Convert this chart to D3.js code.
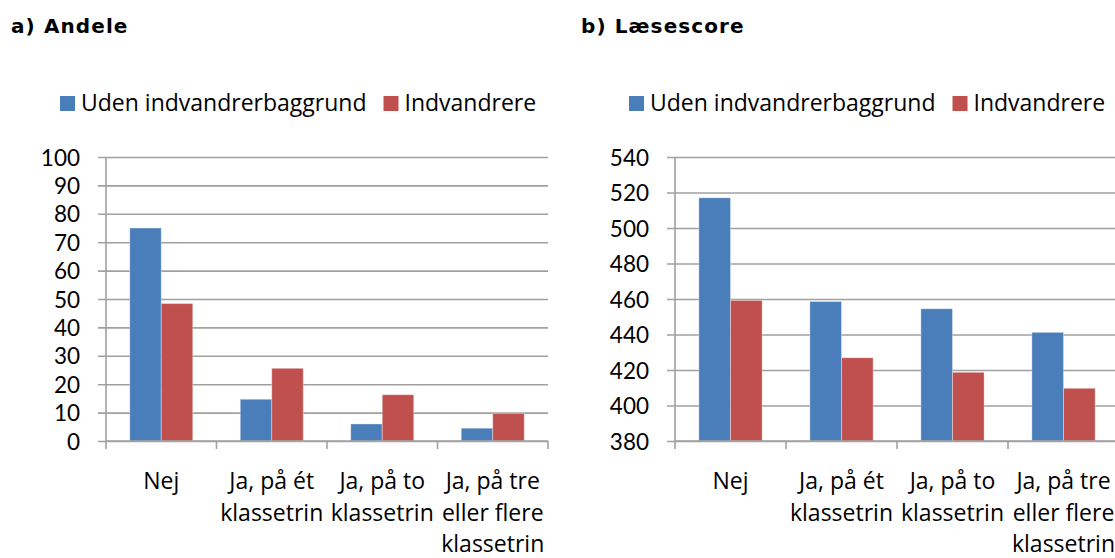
<!DOCTYPE html>
<html>
<head>
<meta charset="utf-8">
<script src="https://cdn.jsdelivr.net/npm/d3@7"></script>
<style>
  html, body { margin: 0; padding: 0; background: #fff; }
  svg { display: block; }
  .title { font-family: "DejaVu Sans", Verdana, sans-serif; font-weight: bold; font-size: 20px; letter-spacing: 1.1px; fill: #000; }
  .lbl { font-family: "Open Sans", "Noto Sans", sans-serif; font-size: 23px; fill: #000; }
  .num { font-family: Lato, "Open Sans", sans-serif; font-size: 22.5px; fill: #000; }
</style>
</head>
<body>
<svg id="chart" width="1115" height="558"></svg>
<script>
// Categories (x axis) and series names
const categories = ["Nej", "Ja, på ét klassetrin", "Ja, på to klassetrin", "Ja, på tre eller flere klassetrin"];
const seriesNames = ["Uden indvandrerbaggrund", "Indvandrere"];
const seriesColors = ["#4a7ebb", "#c0504d"];

// a) Andele (percent)
const andeleUden = [75, 14.7, 6.0, 4.5];
const andeleIndv = [48.4, 25.6, 16.3, 9.7];
const andeleTicks = [0, 10, 20, 30, 40, 50, 60, 70, 80, 90, 100];

// b) Læsescore
const scoreUden = [517, 458.6, 454.5, 441.2];
const scoreIndv = [459.2, 426.9, 418.7, 409.7];
const scoreTicks = [380, 400, 420, 440, 460, 480, 500, 520, 540];

const svg = d3.select("#chart");

function drawPanel(opts) {
  const g = svg.append("g");
  const { title, titleX, legendX, legendGap, left, right, top, bottom, domain, ticks, values } = opts;

  // Panel title
  g.append("text").attr("class", "title").attr("x", titleX).attr("y", 33).text(title);

  // Legend
  const leg = g.append("g").attr("transform", `translate(${legendX},96)`);
  let lx = 0;
  seriesNames.forEach((name, i) => {
    leg.append("rect").attr("x", lx).attr("y", 0).attr("width", 15).attr("height", 15).attr("fill", seriesColors[i]);
    const t = leg.append("text").attr("class", "lbl").attr("x", lx + 21).attr("y", 15).text(name);
    lx += 21 + t.node().getComputedTextLength() + legendGap;
  });

  const x = d3.scaleBand().domain(categories).range([left, right]).padding(0);
  const step = x.bandwidth();
  const xs = d3.scaleBand().domain(seriesNames).range([step * 0.215, step * 0.785]).padding(0);
  const y = d3.scaleLinear().domain(domain).range([bottom, top]);

  // Gridlines (with short outer tick) and y labels
  const yAxis = g.append("g").attr("transform", `translate(${left},0)`)
    .call(d3.axisLeft(y).tickValues(ticks).tickSize(-(right - left)).tickSizeOuter(0).tickPadding(0));
  yAxis.select(".domain").remove();
  yAxis.selectAll(".tick line").attr("x1", -8).attr("stroke", "#a0a0a0").attr("stroke-width", 1.6);
  yAxis.selectAll(".tick text").attr("class", "num").attr("x", -26).attr("dy", "0.36em")
    .attr("text-anchor", "end").attr("font-family", null).attr("font-size", null).attr("fill", null);

  // Vertical axis line
  g.append("line").attr("x1", left).attr("x2", left).attr("y1", top).attr("y2", bottom)
    .attr("stroke", "#a0a0a0").attr("stroke-width", 1.6);

  // Bars
  const rows = categories.map((c, i) => ({ c, v: [values[0][i], values[1][i]] }));
  const grp = g.selectAll(".grp").data(rows).join("g").attr("transform", d => `translate(${x(d.c)},0)`);
  grp.selectAll("rect").data(d => d.v.map((v, j) => ({ v, s: seriesNames[j], j })))
    .join("rect")
    .attr("x", d => xs(d.s))
    .attr("width", xs.bandwidth())
    .attr("y", d => y(d.v))
    .attr("height", d => y(domain[0]) - y(d.v))
    .attr("fill", d => seriesColors[d.j])
    .attr("stroke", "rgba(255,255,255,0.35)")
    .attr("stroke-width", 1);

  // Category axis with boundary ticks
  const bounds = categories.map(c => x(c)).concat([right]);
  g.append("line").attr("x1", left).attr("x2", right).attr("y1", bottom).attr("y2", bottom)
    .attr("stroke", "#a0a0a0").attr("stroke-width", 1.6);
  g.selectAll(".btick").data(bounds).join("line")
    .attr("x1", d => d).attr("x2", d => d).attr("y1", bottom).attr("y2", bottom + 8)
    .attr("stroke", "#a0a0a0").attr("stroke-width", 1.6);

  // Category labels, wrapped to the band width
  categories.forEach(c => {
    const cx = x(c) + step / 2;
    const t = g.append("text").attr("class", "lbl").attr("text-anchor", "middle");
    const words = c.split(" ");
    let lines = [], cur = [];
    const probe = g.append("text").attr("class", "lbl");
    words.forEach(w => {
      const test = cur.concat([w]).join(" ");
      probe.text(test);
      if (cur.length && probe.node().getComputedTextLength() > step + 2) {
        lines.push(cur.join(" "));
        cur = [w];
      } else cur.push(w);
    });
    lines.push(cur.join(" "));
    probe.remove();
    lines.forEach((ln, k) => {
      t.append("tspan").attr("x", cx).attr("y", bottom + 48 + k * 31.5).text(ln);
    });
  });
}

drawPanel({
  title: "a) Andele", titleX: 11, legendX: 60, legendGap: 17,
  left: 106, right: 548, top: 157, bottom: 441,
  domain: [0, 100], ticks: andeleTicks, values: [andeleUden, andeleIndv]
});

drawPanel({
  title: "b) Læsescore", titleX: 581, legendX: 629, legendGap: 17,
  left: 675, right: 1119, top: 157, bottom: 441,
  domain: [380, 540], ticks: scoreTicks, values: [scoreUden, scoreIndv]
});
</script>
</body>
</html>
